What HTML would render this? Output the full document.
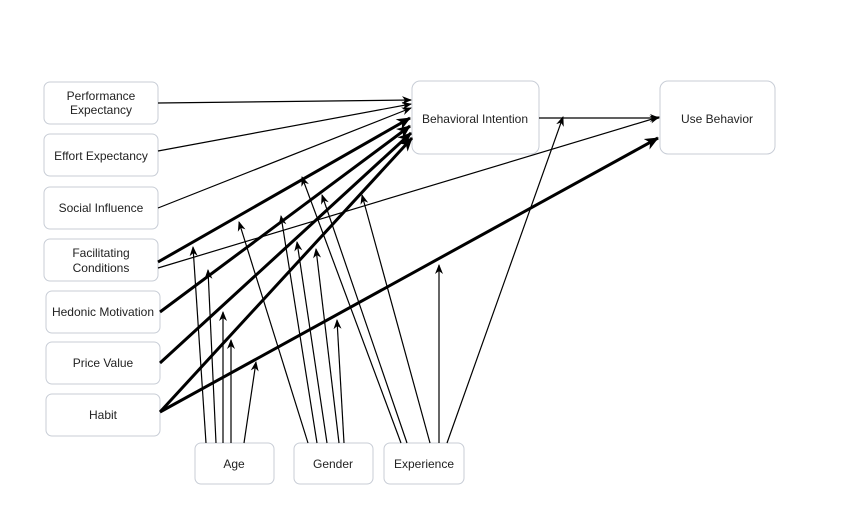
<!DOCTYPE html>
<html><head><meta charset="utf-8"><style>
body{margin:0;background:#fff;}
svg{display:block;}
text{font-family:"Liberation Sans",sans-serif;font-size:12px;fill:#222;text-anchor:middle;}
rect{fill:#fff;stroke:#c8cdd6;stroke-width:1;}
</style></head><body>
<svg width="841" height="516" viewBox="0 0 841 516">
<defs>
<marker id="a" markerWidth="10" markerHeight="10" refX="9" refY="5" orient="auto" markerUnits="userSpaceOnUse">
<path d="M0,1 L10,5 L0,9 L3,5 Z" fill="#000"/></marker>
<marker id="b" markerWidth="14" markerHeight="14" refX="13" refY="7" orient="auto" markerUnits="userSpaceOnUse">
<path d="M0,1 L14,7 L0,13 L4,7 Z" fill="#000"/></marker>
</defs>
<rect x="44" y="82" width="114" height="42" rx="6"/>
<rect x="44" y="134" width="114" height="42" rx="6"/>
<rect x="44" y="187" width="114" height="42" rx="6"/>
<rect x="44" y="239" width="114" height="42" rx="6"/>
<rect x="46" y="291" width="114" height="42" rx="6"/>
<rect x="46" y="342" width="114" height="42" rx="6"/>
<rect x="46" y="394" width="114" height="42" rx="6"/>
<rect x="195" y="443" width="79" height="41" rx="6"/>
<rect x="294" y="443" width="79" height="41" rx="6"/>
<rect x="384" y="443" width="80" height="41" rx="6"/>
<rect x="412" y="81" width="127" height="73" rx="8"/>
<rect x="660" y="81" width="115" height="73" rx="8"/>
<text x="101" y="100">Performance</text><text x="101" y="114">Expectancy</text>
<text x="101" y="160">Effort Expectancy</text>
<text x="101" y="212">Social Influence</text>
<text x="101" y="257">Facilitating</text><text x="101" y="272">Conditions</text>
<text x="103" y="316">Hedonic Motivation</text>
<text x="103" y="367">Price Value</text>
<text x="103" y="419">Habit</text>
<text x="234" y="468">Age</text>
<text x="333" y="468">Gender</text>
<text x="424" y="468">Experience</text>
<text x="475" y="123">Behavioral Intention</text>
<text x="717" y="123">Use Behavior</text>
<g stroke="#000" fill="none">
<g stroke-width="1.2" marker-end="url(#a)">
<line x1="158" y1="103" x2="411" y2="100"/>
<line x1="158" y1="151" x2="411" y2="104"/>
<line x1="158" y1="208" x2="411" y2="108"/>
<line x1="158" y1="268" x2="659" y2="117"/>
<line x1="539" y1="118" x2="659" y2="118"/>
<line x1="206" y1="443" x2="193" y2="247"/>
<line x1="216" y1="443" x2="208" y2="270"/>
<line x1="223" y1="443" x2="223" y2="312"/>
<line x1="231" y1="443" x2="231" y2="340"/>
<line x1="244" y1="443" x2="256" y2="362"/>
<line x1="308" y1="443" x2="239" y2="222"/>
<line x1="317" y1="443" x2="281" y2="216"/>
<line x1="327" y1="443" x2="297" y2="242"/>
<line x1="339" y1="443" x2="316" y2="249"/>
<line x1="344" y1="443" x2="337" y2="320"/>
<line x1="401" y1="443" x2="302" y2="177"/>
<line x1="407" y1="443" x2="322" y2="195"/>
<line x1="430" y1="443" x2="362" y2="195"/>
<line x1="439" y1="443" x2="439" y2="265"/>
<line x1="447" y1="443" x2="563" y2="117"/>
</g>
<g stroke-width="3" marker-end="url(#b)">
<line x1="158" y1="262" x2="410" y2="118"/>
<line x1="160" y1="312" x2="410" y2="126"/>
<line x1="160" y1="363" x2="411" y2="133"/>
<line x1="160" y1="412" x2="412" y2="138"/>
<line x1="160" y1="412" x2="658" y2="138"/>
</g>
</g>
</svg>
</body></html>
